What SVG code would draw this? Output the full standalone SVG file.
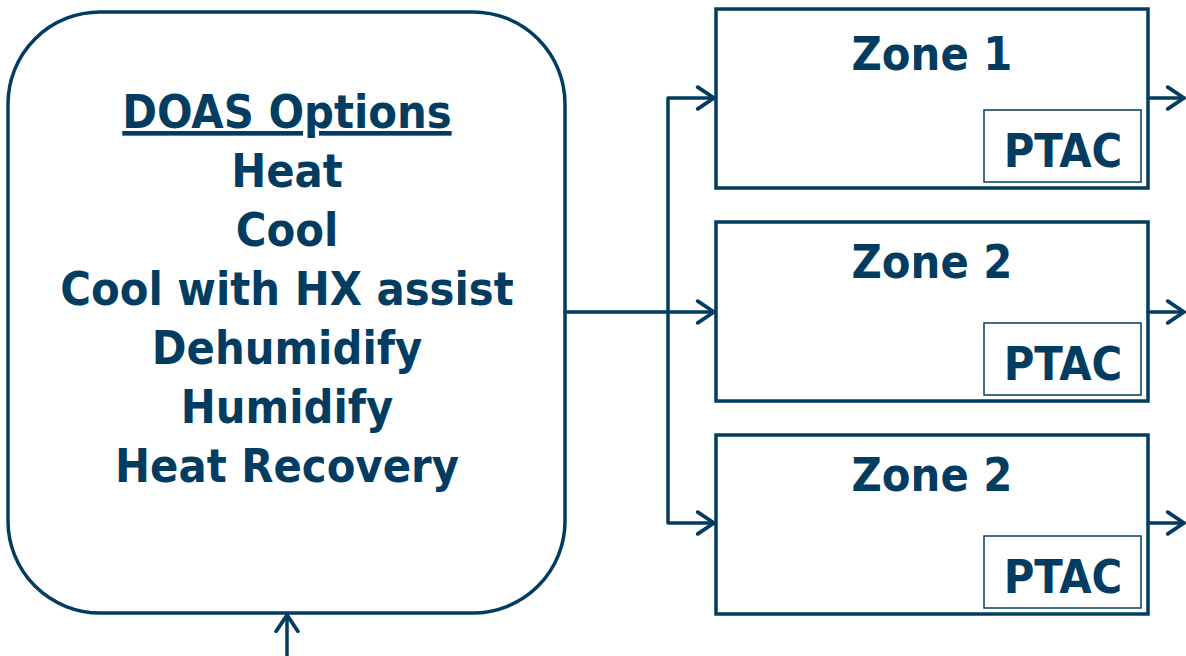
<svg xmlns="http://www.w3.org/2000/svg" width="1186" height="656" viewBox="0 0 1186 656">
<style>
.box{fill:#fff;stroke:#023d61;stroke-width:3.5}
.ptac{fill:#fff;stroke:#023d61;stroke-width:1.5}
.t{font-family:"DejaVu Sans Condensed","DejaVu Sans",sans-serif;font-stretch:condensed;font-weight:bold;fill:#023d61;text-anchor:middle;font-size:46.5px}
.c{fill:none;stroke:#023d61;stroke-width:3.5;stroke-linecap:round;stroke-linejoin:round}
</style>
<defs>
<marker id="ah" markerUnits="userSpaceOnUse" markerWidth="24" markerHeight="26" viewBox="-18 -12 20 24" refX="0" refY="0" orient="auto">
<path d="M-15,-10 L0,0 L-15,10" fill="none" stroke="#023d61" stroke-width="3.5" stroke-linecap="round" stroke-linejoin="round"/>
</marker>
</defs>
<g id="doas">
<rect class="box" x="8" y="12" width="557" height="601" rx="92" ry="92"/>
<text class="t" x="287" y="128" text-decoration="underline">DOAS Options</text>
<text class="t" x="287" y="187">Heat</text>
<text class="t" x="287" y="246">Cool</text>
<text class="t" x="287" y="305">Cool with HX assist</text>
<text class="t" x="287" y="364">Dehumidify</text>
<text class="t" x="287" y="423">Humidify</text>
<text class="t" x="287" y="482">Heat Recovery</text>
</g>
<g id="zone1">
<rect class="box" x="716" y="9" width="432" height="179"/>
<text class="t" x="932" y="70">Zone 1</text>
<rect class="ptac" x="984" y="110" width="157" height="72"/>
<text class="t" x="1063" y="167">PTAC</text>
</g>
<g id="zone2">
<rect class="box" x="716" y="222" width="432" height="179"/>
<text class="t" x="932" y="278">Zone 2</text>
<rect class="ptac" x="984" y="323" width="157" height="72"/>
<text class="t" x="1063" y="380">PTAC</text>
</g>
<g id="zone3">
<rect class="box" x="716" y="435" width="432" height="179"/>
<text class="t" x="932" y="491">Zone 2</text>
<rect class="ptac" x="984" y="536" width="157" height="72"/>
<text class="t" x="1063" y="593">PTAC</text>
</g>
<g id="connectors">
<path class="c" d="M565,312 L714,312" marker-end="url(#ah)"/>
<path class="c" d="M668,312 L668,98 L714,98" marker-end="url(#ah)"/>
<path class="c" d="M668,312 L668,523 L714,523" marker-end="url(#ah)"/>
<path class="c" d="M1148,98 L1184,98" marker-end="url(#ah)"/>
<path class="c" d="M1148,312 L1184,312" marker-end="url(#ah)"/>
<path class="c" d="M1148,523 L1184,523" marker-end="url(#ah)"/>
<path class="c" d="M287,660 L287,615" marker-end="url(#ah)"/>
</g>
</svg>
